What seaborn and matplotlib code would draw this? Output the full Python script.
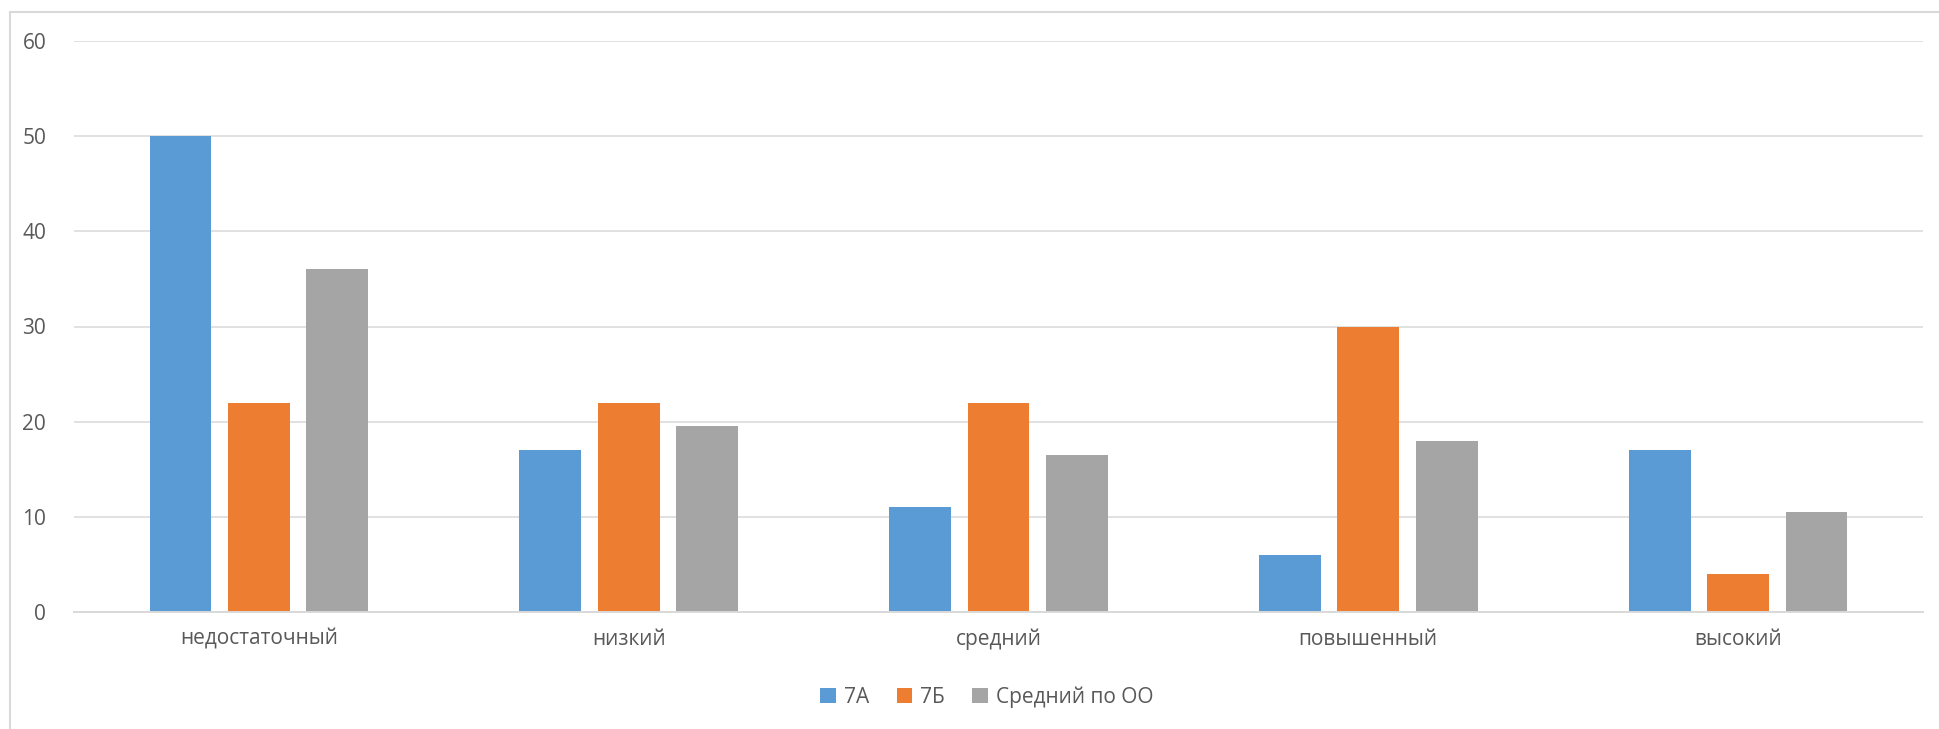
import matplotlib
matplotlib.use("Agg")
import matplotlib.pyplot as plt
from matplotlib.lines import Line2D
import seaborn as sns
import pandas as pd

categories = ["недостаточный", "низкий", "средний", "повышенный", "высокий"]
series_names = ["7А", "7Б", "Средний по ОО"]
values_7a = [50, 17, 11, 6, 17]
values_7b = [22, 22, 22, 30, 4]
values_avg = [36, 19.5, 16.5, 18, 10.5]
colors = ["#5B9BD5", "#ED7D31", "#A5A5A5"]
y_ticks = [0, 10, 20, 30, 40, 50, 60]

rows = []
for name, vals in zip(series_names, [values_7a, values_7b, values_avg]):
    for c, v in zip(categories, vals):
        rows.append({"cat": c, "series": name, "value": v})
df = pd.DataFrame(rows)

sns.set_style("white")
plt.rcParams["font.family"] = ["Open Sans", "DejaVu Sans"]
text_color = "#595959"
grid_color = "#D9D9D9"

W, H = 1939, 729
fig = plt.figure(figsize=(W / 100, H / 100), dpi=100)
ax = fig.add_axes([74 / W, 1 - 612 / H, (1923 - 74) / W, (612 - 41) / H])

sns.barplot(data=df, x="cat", y="value", hue="series", order=categories,
            hue_order=series_names, palette=colors, width=0.636, gap=0.21,
            linewidth=0, saturation=1, ax=ax, zorder=3, legend=True)

ax.set_ylim(0, 60)
ax.set_xlim(-0.5, 4.5)
ax.set_yticks(y_ticks)
ax.set_yticklabels([str(t) for t in y_ticks])
ax.yaxis.grid(True, color=grid_color, linewidth=1.1, zorder=0)
ax.set_axisbelow(True)
for s in ["top", "right", "left"]:
    ax.spines[s].set_visible(False)
ax.spines["bottom"].set_color(grid_color)
ax.spines["bottom"].set_linewidth(1.4)
ax.spines["bottom"].set_zorder(4)
ax.tick_params(axis="both", length=0, labelsize=15, colors=text_color)
ax.tick_params(axis="y", pad=20)
ax.tick_params(axis="x", pad=12)
ax.set_xlabel("")
ax.set_ylabel("")

handles, labels = ax.get_legend_handles_labels()
ax.get_legend().remove()
fig.legend(handles, labels, loc="center", bbox_to_anchor=(987 / W, 1 - 697 / H),
           ncol=3, frameon=False, fontsize=15, labelcolor=text_color,
           handlelength=0.75, handleheight=0.75, handletextpad=0.4,
           columnspacing=1.3)

# chart frame (left and top edges)
fig.add_artist(Line2D([10 / W, 10 / W], [0, 1 - 12 / H], transform=fig.transFigure,
                      color=grid_color, linewidth=1.5))
fig.add_artist(Line2D([10 / W, 1], [1 - 12 / H, 1 - 12 / H], transform=fig.transFigure,
                      color=grid_color, linewidth=1.5))

fig.savefig("out.png", dpi=100, facecolor="white")
